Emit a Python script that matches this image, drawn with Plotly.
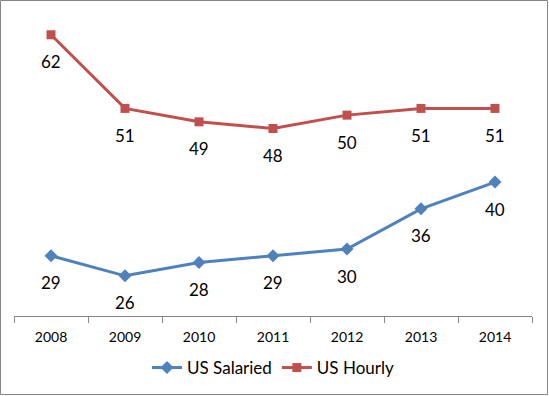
import plotly.graph_objects as go

years = ["2008", "2009", "2010", "2011", "2012", "2013", "2014"]
salaried = [29, 26, 28, 29, 30, 36, 40]
hourly = [62, 51, 49, 48, 50, 51, 51]

W, H = 549, 396
ml, mr, mt, mb = 14, 17, 8, 80
pw, ph = W - ml - mr, H - mt - mb

blue = "#4F81BD"
red = "#C0504D"
font = "Lato, 'Open Sans', sans-serif"

fig = go.Figure()
fig.add_trace(go.Scatter(x=years, y=salaried, name="US Salaried", mode="lines+markers",
                         line=dict(color=blue, width=3),
                         marker=dict(symbol="diamond", size=10, color=blue)))
fig.add_trace(go.Scatter(x=years, y=hourly, name="US Hourly", mode="lines+markers",
                         line=dict(color=red, width=3),
                         marker=dict(symbol="square", size=9, color=red)))

anns = []
for series in (salaried, hourly):
    for i, yv in enumerate(series):
        anns.append(dict(x=i, y=yv, xref="x", yref="y", text=str(yv), showarrow=False,
                         yshift=-27, font=dict(size=17, color="#000000", family=font)))

fig.update_layout(
    width=W, height=H,
    margin=dict(l=ml, r=mr, t=mt, b=mb, autoexpand=False),
    paper_bgcolor="white", plot_bgcolor="white",
    showlegend=True,
    legend=dict(orientation="h", x=0.5, xanchor="center", yref="container",
                y=1 - 368 / H, yanchor="middle",
                font=dict(size=17, color="#000000", family=font),
                traceorder="normal"),
    xaxis=dict(type="category", range=[-0.5, 6.5], showgrid=False, zeroline=False,
               showline=True, linecolor="#868686", linewidth=1,
               ticks="outside", ticklen=6, tickcolor="#868686", tickson="boundaries",
               ticklabelstandoff=8,
               tickfont=dict(size=14, color="#000000", family=font), fixedrange=True),
    yaxis=dict(range=[20, 66], visible=False, fixedrange=True),
    annotations=anns,
    shapes=[dict(type="rect", xref="paper", yref="paper",
                 x0=-(ml - 0.5) / pw, x1=1 + (mr - 1.5) / pw,
                 y0=-(mb - 1.5) / ph, y1=1 + (mt - 0.5) / ph,
                 line=dict(color="#868686", width=1))],
)

fig.write_html("out.html", config={"displayModeBar": False},
               post_script="document.body.style.margin='0';")
